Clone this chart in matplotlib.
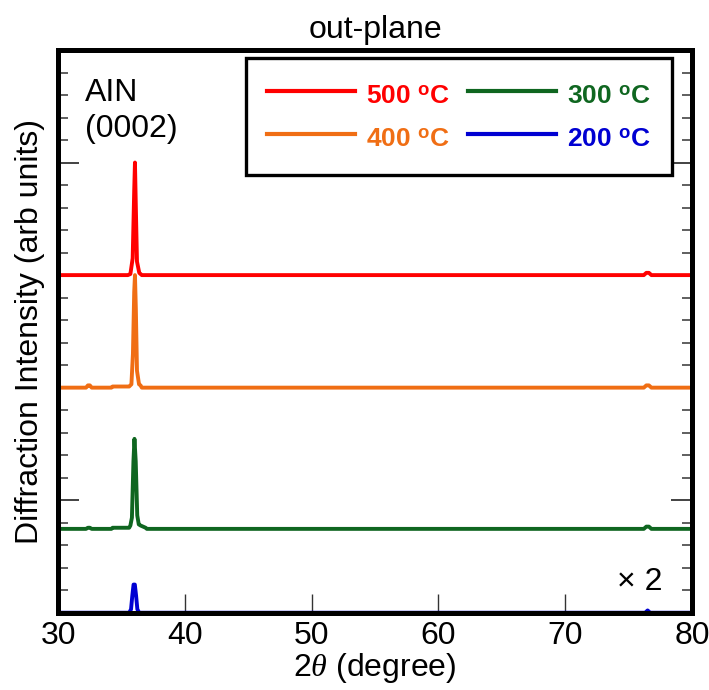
import matplotlib
matplotlib.use("Agg")
import matplotlib.pyplot as plt
from matplotlib.lines import Line2D
from matplotlib.ticker import MultipleLocator, NullFormatter

plt.rcParams['font.family'] = ['Liberation Sans', 'DejaVu Sans']
plt.rcParams['mathtext.fontset'] = 'custom'
plt.rcParams['mathtext.rm'] = 'Liberation Sans'
plt.rcParams['mathtext.bf'] = 'Liberation Sans:bold'
plt.rcParams['mathtext.it'] = 'Liberation Serif:italic'

# curves (2theta in degree, relative intensity)
x_500 = [30, 35.5, 35.7, 35.88, 36.0, 36.06, 36.13, 36.22, 36.4, 36.6, 76.2, 76.4, 76.6, 76.8, 80]
y_500 = [0, 0, 0.01, 0.15, 0.75, 1.0, 0.6, 0.12, 0.02, 0, 0, 0.02, 0.02, 0, 0]

x_400 = [30, 32.2, 32.35, 32.5, 32.65, 34.2, 34.3, 35.6, 35.78, 35.9, 36.0, 36.06, 36.13, 36.22, 36.38, 36.5, 36.6,
         76.2, 76.4, 76.6, 76.8, 80]
y_400 = [0, 0, 0.02, 0.02, 0, 0, 0.01, 0.01, 0.03, 0.3, 0.85, 1.0, 0.7, 0.15, 0.03, 0.02, 0,
         0, 0.02, 0.02, 0, 0]

x_300 = [30, 32.2, 32.35, 32.5, 32.65, 34.2, 34.3, 35.6, 35.7, 35.82, 35.94, 36.02, 36.12, 36.24, 36.36, 36.5, 36.9, 37.0,
         76.2, 76.4, 76.6, 76.8, 80]
y_300 = [0, 0, 0.01, 0.01, 0, 0, 0.01, 0.01, 0.03, 0.1, 0.6, 0.8, 0.6, 0.12, 0.04, 0.03, 0.01, 0,
         0, 0.02, 0.02, 0, 0]

x_200 = [30, 35.6, 35.75, 35.85, 35.95, 36.05, 36.15, 36.25, 36.4, 76.3, 76.5, 76.7, 80]
y_200 = [0, 0, 0.03, 0.15, 0.25, 0.25, 0.15, 0.03, 0, 0, 0.02, 0, 0]

offsets = [3.0, 2.0, 0.745, 0.0]
labels = ['500 $^{\\mathbf{o}}$C', '400 $^{\\mathbf{o}}$C', '300 $^{\\mathbf{o}}$C', '200 $^{\\mathbf{o}}$C']
colors = ['#ff0000', '#f06e14', '#0f6620', '#0000d2']

fig = plt.figure(figsize=(7.09, 6.90), dpi=100)
ax = fig.add_axes([0.082, 0.112, 0.894, 0.8155])

curves = [(x_500, y_500), (x_400, y_400), (x_300, y_300), (x_200, y_200)]
# draw the bottom curve first so the red one sits on top
for i in [3, 2, 1, 0]:
    xs, ys = curves[i]
    ax.plot(xs, [v + offsets[i] for v in ys], color=colors[i], lw=2.8, zorder=2)

ax.set_xlim(30, 80)
ax.set_ylim(0, 5)
ax.xaxis.set_major_locator(MultipleLocator(10))
ax.yaxis.set_major_locator(MultipleLocator(1))
ax.yaxis.set_minor_locator(MultipleLocator(0.2))
ax.yaxis.set_major_formatter(NullFormatter())
ax.tick_params(axis='x', direction='in', length=14, width=1, color='#333333',
               labelsize=23, pad=6, top=False)
ax.tick_params(axis='y', which='major', direction='in', length=15, width=1.2,
               color='#222222', left=True, right=True)
ax.tick_params(axis='y', which='minor', direction='in', length=7, width=1.2,
               color='#444444', left=True, right=True)
for s in ax.spines.values():
    s.set_linewidth(3.6)
    s.set_zorder(4)

ax.set_xlabel('2$\\mathit{\\theta}$ (degree)', fontsize=23, labelpad=0)
ax.set_ylabel('Diffraction Intensity (arb units)', fontsize=23, labelpad=6)
ax.set_title('out-plane', fontsize=23, pad=9)

ax.text(0.042, 0.95, 'AIN\n(0002)', transform=ax.transAxes, fontsize=23,
        va='top', ha='left', linespacing=1.25)
ax.text(0.882, 0.055, '× 2', transform=ax.transAxes, fontsize=23, va='center', ha='left')

handles = [Line2D([], [], color=c, lw=3) for c in colors]
leg = ax.legend(handles, labels, ncol=2, loc='upper right', bbox_to_anchor=(0.968, 0.986),
                prop={'weight': 'bold', 'size': 19}, handlelength=3.35, handleheight=1.5,
                handletextpad=0.4, columnspacing=0.7, labelspacing=0.4,
                borderpad=0.8, borderaxespad=0, fancybox=False, framealpha=1,
                edgecolor='black', labelcolor='linecolor')
leg.get_frame().set_linewidth(2.4)
leg.set_zorder(5)

fig.savefig('out.png', dpi=100)
